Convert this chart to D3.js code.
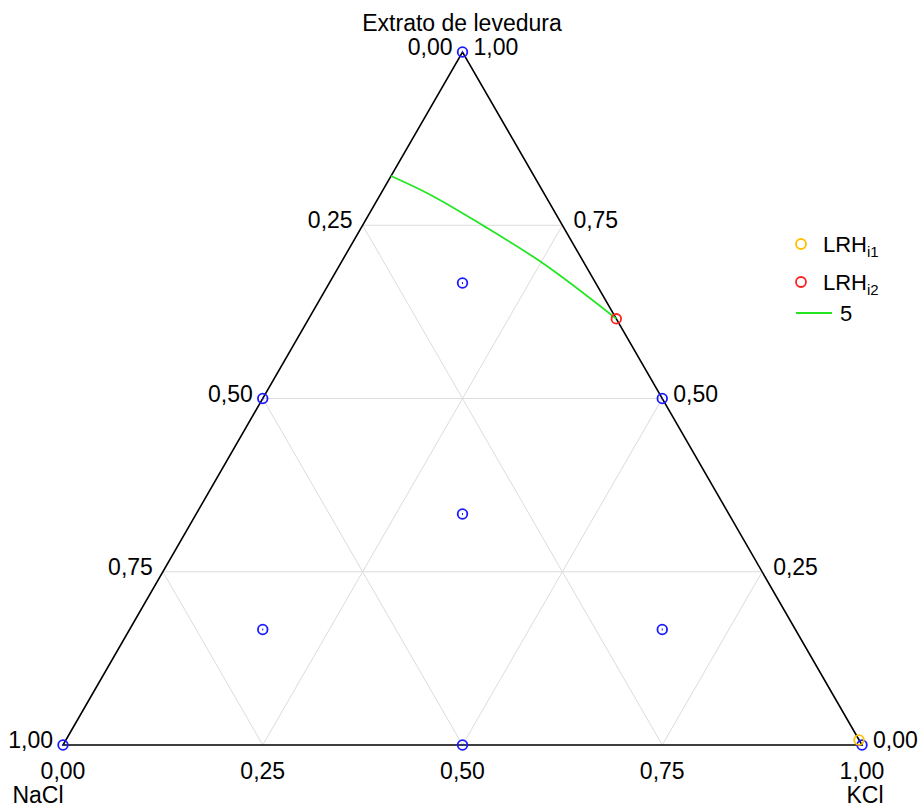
<!DOCTYPE html>
<html>
<head>
<meta charset="utf-8">
<script src="https://cdn.jsdelivr.net/npm/d3@7"></script>
<style>
  body { margin: 0; background: #fff; }
  text { font-family: "Liberation Sans", Arial, sans-serif; fill: #000; }
</style>
</head>
<body>
<div id="chart"></div>
<script>
// components: NaCl (left), KCl (right), Extrato de levedura (top)
const axisNames = ["NaCl", "KCl", "Extrato de levedura"];
const ticks = [0, 0.25, 0.5, 0.75, 1];

// design points [NaCl, KCl, Extrato]
const designNaCl = [1, 0, 0, 0.5, 0.5, 0, 1/3, 2/3, 1/6, 1/6];
const designKCl = [0, 1, 0, 0.5, 0, 0.5, 1/3, 1/6, 2/3, 1/6];
const designExt = [0, 0, 1, 0, 0.5, 0.5, 1/3, 1/6, 1/6, 2/3];

// LRH points
const lrhNames = ["LRH_i1", "LRH_i2"];
const lrhNaCl = [0, 0];
const lrhKCl = [1, 0.385];
const lrhExt = [0, 0.615];
const lrhColors = ["#ffc000", "#ff2020"];

// contour "5"
const curveNaCl = [0.179, 0.148, 0.098, 0.054, 0];
const curveKCl = [0, 0.054, 0.154, 0.248, 0.385];
const curveExt = [0.821, 0.798, 0.748, 0.698, 0.615];

const width = 922, height = 811;
const fmt = v => d3.format(".2f")(v).replace(".", ",");
const green = "#22e622";

const svg = d3.select("#chart").append("svg")
  .attr("width", width).attr("height", height);

const x = d3.scaleLinear().domain([0, 1]).range([63, 862]);
const y = d3.scaleLinear().domain([0, 1]).range([745, 52]);
const proj = (b, c, a) => [x(c + a / 2), y(a)];

// grid
const grid = svg.append("g").attr("stroke", "#dcdcdc").attr("stroke-width", 1);
[0.25, 0.5, 0.75].forEach(t => {
  // constant Extrato
  let p1 = proj(1 - t, 0, t), p2 = proj(0, 1 - t, t);
  grid.append("line").attr("x1", p1[0]).attr("y1", p1[1]).attr("x2", p2[0]).attr("y2", p2[1]);
  // constant KCl
  p1 = proj(1 - t, t, 0); p2 = proj(0, t, 1 - t);
  grid.append("line").attr("x1", p1[0]).attr("y1", p1[1]).attr("x2", p2[0]).attr("y2", p2[1]);
  // constant NaCl
  p1 = proj(t, 1 - t, 0); p2 = proj(t, 0, 1 - t);
  grid.append("line").attr("x1", p1[0]).attr("y1", p1[1]).attr("x2", p2[0]).attr("y2", p2[1]);
});

// triangle
const verts = [proj(1, 0, 0), proj(0, 1, 0), proj(0, 0, 1)];
svg.append("path")
  .attr("d", d3.line()(verts) + "Z")
  .attr("fill", "none").attr("stroke", "#000").attr("stroke-width", 1.6);

// tick labels
const lab = svg.append("g").style("font-size", "23px");
ticks.forEach(t => {
  // left side: NaCl, from top (0) to bottom-left (1)
  let p = proj(t, 0, 1 - t);
  lab.append("text").attr("x", p[0] - 10).attr("y", p[1] + 3)
    .attr("text-anchor", "end").text(fmt(t));
  // right side: Extrato, from bottom-right (0) to top (1)
  p = proj(0, 1 - t, t);
  lab.append("text").attr("x", p[0] + 11).attr("y", p[1] + 3)
    .attr("text-anchor", "start").text(fmt(t));
  // bottom: KCl
  p = proj(1 - t, t, 0);
  lab.append("text").attr("x", p[0]).attr("y", p[1] + 34)
    .attr("text-anchor", "middle").text(fmt(t));
});

// axis names
const names = svg.append("g").style("font-size", "23px").attr("text-anchor", "middle");
names.append("text").attr("x", 38).attr("y", 803).text(axisNames[0]);
names.append("text").attr("x", 865).attr("y", 803).text(axisNames[1]);
names.append("text").attr("x", 462).attr("y", 31).text(axisNames[2]);

// contour line
const curvePts = curveNaCl.map((b, i) => proj(b, curveKCl[i], curveExt[i]));
svg.append("path")
  .attr("d", d3.line().curve(d3.curveMonotoneX)(curvePts))
  .attr("fill", "none").attr("stroke", green).attr("stroke-width", 1.8);

// design points
const dp = svg.append("g").selectAll("g")
  .data(designNaCl.map((b, i) => proj(b, designKCl[i], designExt[i])))
  .join("g");
dp.append("circle")
  .attr("cx", d => d[0]).attr("cy", d => d[1]).attr("r", 4.8)
  .attr("fill", "none").attr("stroke", "#1a1aff").attr("stroke-width", 1.8);
dp.append("rect")
  .attr("x", d => d[0] - 0.5).attr("y", d => d[1] - 1).attr("width", 1).attr("height", 2)
  .attr("fill", "#1a1aff");

// LRH points (slightly offset the way the plot draws them)
svg.append("g").selectAll("circle")
  .data(lrhNaCl.map((b, i) => proj(b, lrhKCl[i], lrhExt[i])))
  .join("circle")
  .attr("cx", (d, i) => d[0] - (i === 0 ? 3 : 0))
  .attr("cy", (d, i) => d[1] - (i === 0 ? 5 : 0))
  .attr("r", 4.8)
  .attr("fill", "none").attr("stroke", (d, i) => lrhColors[i]).attr("stroke-width", 1.8);

// legend
const legend = svg.append("g").style("font-size", "22px");
lrhNames.forEach((n, i) => {
  const ly = 244 + i * 38;
  legend.append("circle").attr("cx", 801).attr("cy", ly).attr("r", 5)
    .attr("fill", "none").attr("stroke", lrhColors[i]).attr("stroke-width", 1.8);
  const t = legend.append("text").attr("x", 823).attr("y", ly + 8);
  const parts = n.split("_");
  t.append("tspan").text(parts[0]);
  t.append("tspan").attr("dy", 5).style("font-size", "15px").text(parts[1]);
});
legend.append("line").attr("x1", 796).attr("x2", 832).attr("y1", 313).attr("y2", 313)
  .attr("stroke", green).attr("stroke-width", 1.8);
legend.append("text").attr("x", 840).attr("y", 321).text("5");
</script>
</body>
</html>
